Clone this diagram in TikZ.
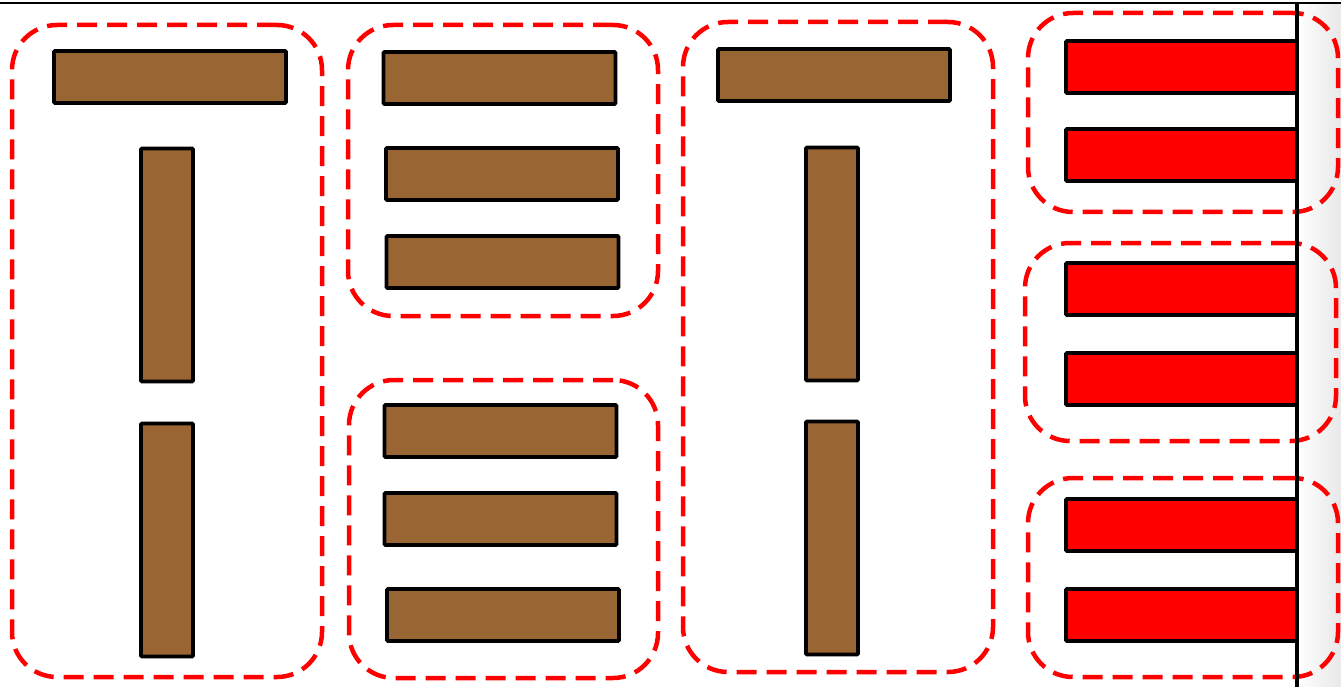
\documentclass[tikz,border=0pt]{standalone}
\definecolor{barbrown}{HTML}{996633}
\definecolor{barred}{HTML}{FF0000}
\definecolor{dashred}{HTML}{FF0000}
\begin{document}
\begin{tikzpicture}[x=1pt,y=-1pt,
  groupbox/.style={draw=dashred, line width=4.5pt, dash pattern=on 20pt off 10pt, rounded corners=45pt, inner sep=0pt, outer sep=0pt},
  brownbar/.style={draw=black, fill=barbrown, line width=3.8pt, rounded corners=1pt, inner sep=0pt, outer sep=0pt},
  redbar/.style={draw=black, fill=barred, line width=3.8pt, rounded corners=1pt, inner sep=0pt, outer sep=0pt, minimum width=231pt, minimum height=52pt},
  hbar/.style={minimum width=232pt, minimum height=52pt},
  vbar/.style={minimum width=52pt, minimum height=233pt}]
\useasboundingbox (0,0) rectangle (1341,687);
\fill[white] (0,0) rectangle (1341,687);
\shade[left color=white, right color=black!9] (1297,3) rectangle (1341,687);
% group 1
\node[groupbox, minimum width=310pt, minimum height=652pt] (g1) at (167,351) {};
\node[brownbar, hbar] (b11) at (170,77) {};
\node[brownbar, vbar] (b12) at (167,265) {};
\node[brownbar, vbar] (b13) at (167,540) {};
% group 2 top
\node[groupbox, minimum width=310pt, minimum height=291pt] (g2a) at (503,170.5) {};
\node[brownbar, hbar] (b21) at (499.5,78) {};
\node[brownbar, hbar] (b22) at (502,174) {};
\node[brownbar, hbar] (b23) at (502.5,262) {};
% group 2 bottom
\node[groupbox, minimum width=309pt, minimum height=298pt] (g2b) at (503.5,529) {};
\node[brownbar, hbar] (b24) at (500.5,431) {};
\node[brownbar, hbar] (b25) at (500.5,519) {};
\node[brownbar, hbar] (b26) at (503,615) {};
% group 3
\node[groupbox, minimum width=310pt, minimum height=650pt] (g3) at (838,347) {};
\node[brownbar, hbar] (b31) at (834,75) {};
\node[brownbar, vbar] (b32) at (832,264) {};
\node[brownbar, vbar] (b33) at (832,538) {};
% group 4
\node[groupbox, minimum width=310pt, minimum height=199pt] (g4a) at (1183,112.5) {};
\node[groupbox, minimum width=311pt, minimum height=198pt] (g4b) at (1180.5,342) {};
\node[groupbox, minimum width=310pt, minimum height=199pt] (g4c) at (1183,577.5) {};
\node[redbar] (r1) at (1181.5,67) {};
\node[redbar] (r2) at (1181.5,155) {};
\node[redbar] (r3) at (1181.5,289) {};
\node[redbar] (r4) at (1181.5,379) {};
\node[redbar] (r5) at (1181.5,525) {};
\node[redbar] (r6) at (1181.5,615) {};
% frame lines
\coordinate (tl) at (0,3);
\coordinate (tr) at (1341,3);
\coordinate (vt) at (1297,3);
\coordinate (vb) at (1297,687);
\draw[black, line width=2pt] (tl) -- (tr);
\draw[black, line width=3.5pt] (vt) -- (vb);
\end{tikzpicture}
\end{document}
